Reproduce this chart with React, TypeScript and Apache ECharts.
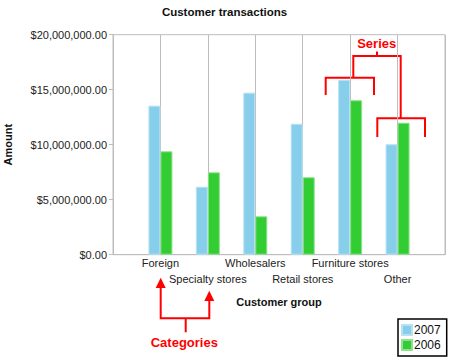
import React, { useEffect, useRef } from "react";
import * as echarts from "echarts";

const categories = ["Foreign", "Specialty stores", "Wholesalers", "Retail stores", "Furniture stores", "Other"];
const values2007 = [13550000, 6180000, 14730000, 11900000, 15900000, 10040000];
const values2006 = [9400000, 7490000, 3490000, 7040000, 14040000, 12000000];
const yTicks = [0, 5000000, 10000000, 15000000, 20000000];

const FONT = "'Liberation Sans', Arial, sans-serif";
const GRAY = "#bdbdbd";
const RED = "#ff0000";

function fmtMoney(v: number): string {
  const s = Math.round(v).toString().replace(/\B(?=(\d{3})+(?!\d))/g, ",");
  return "$" + s + ".00";
}

export default function App() {
  const ref = useRef<HTMLDivElement>(null);
  useEffect(() => {
    if (!ref.current) return;
    const chart = echarts.init(ref.current, undefined, { renderer: "svg" });
    const axisCats = ["", ...categories, ""];
    const redLine = { stroke: RED, lineWidth: 2, fill: null };
    const option: any = {
      animation: false,
      backgroundColor: "#ffffff",
      textStyle: { fontFamily: FONT },
      title: {
        text: "Customer transactions",
        left: "center",
        top: 1,
        textStyle: { fontSize: 11.5, fontWeight: "bold", color: "#111", fontFamily: FONT },
      },
      legend: {
        orient: "vertical",
        left: 398,
        top: 319,
        width: 48,
        padding: [5, 6, 5, 3],
        itemGap: 3,
        itemWidth: 10,
        itemHeight: 10,
        icon: "rect",
        borderColor: "#000",
        borderWidth: 1.5,
        textStyle: { fontSize: 12, color: "#111", fontFamily: FONT, padding: [0, 0, 0, -3] },
        data: ["2007", "2006"],
      },
      grid: {
        left: 113,
        right: 4,
        top: 34.7,
        bottom: 108.3,
        containLabel: false,
        outerBoundsMode: "none",
        show: true,
        borderColor: GRAY,
        borderWidth: 1,
        backgroundColor: "transparent",
      },
      xAxis: {
        type: "category",
        data: axisCats,
        boundaryGap: false,
        name: "Customer group",
        nameLocation: "middle",
        nameGap: 42,
        nameTextStyle: { fontSize: 11, fontWeight: "bold", color: "#111", fontFamily: FONT },
        axisLine: { show: true, lineStyle: { color: GRAY, width: 1 } },
        axisTick: { show: false },
        splitLine: { show: true, lineStyle: { color: GRAY, width: 1 } },
        axisLabel: {
          interval: 0,
          margin: 0,
          fontSize: 11,
          lineHeight: 16,
          color: "#222",
          fontFamily: FONT,
          formatter: (value: string, index: number) => (index % 2 === 0 ? "\n" + value : value),
        },
      },
      yAxis: {
        type: "value",
        min: yTicks[0],
        max: yTicks[yTicks.length - 1],
        interval: yTicks[1] - yTicks[0],
        name: "Amount",
        nameLocation: "middle",
        nameGap: 100,
        nameRotate: 90,
        nameTextStyle: { fontSize: 11, fontWeight: "bold", color: "#111", fontFamily: FONT },
        axisLine: { show: true, lineStyle: { color: GRAY, width: 1 } },
        axisTick: { show: true, length: 4, lineStyle: { color: GRAY } },
        splitLine: { show: false },
        axisLabel: {
          margin: 6,
          fontSize: 11,
          color: "#222",
          fontFamily: FONT,
          formatter: (v: number) => fmtMoney(v),
        },
      },
      series: [
        {
          name: "2007",
          type: "bar",
          barWidth: 12,
          barGap: "0%",
          data: [null, ...values2007, null],
          itemStyle: { color: "#87ceeb", borderColor: "#b8e2f4", borderWidth: 1 },
        },
        {
          name: "2006",
          type: "bar",
          barWidth: 12,
          barGap: "0%",
          data: [null, ...values2006, null],
          itemStyle: { color: "#32cd32", borderColor: "#8fe08f", borderWidth: 1 },
        },
      ],
      graphic: [
        // Series annotation
        {
          type: "text",
          x: 376.7,
          y: 43.3,
          style: { text: "Series", fill: RED, font: "bold 13px " + FONT, textAlign: "center", textVerticalAlign: "middle" },
        },
        { type: "line", shape: { x1: 377, y1: 51.5, x2: 377, y2: 56 }, style: redLine },
        { type: "polyline", shape: { points: [[353.3, 77.7], [353.3, 56], [400.7, 56], [400.7, 118.3]] }, style: redLine },
        { type: "polyline", shape: { points: [[325.7, 95], [325.7, 77.7], [374, 77.7], [374, 95]] }, style: redLine },
        { type: "polyline", shape: { points: [[377.3, 137], [377.3, 118.3], [425, 118.3], [425, 137]] }, style: redLine },
        // Categories annotation
        { type: "polyline", shape: { points: [[160.7, 286], [160.7, 318.3], [209.3, 318.3], [209.3, 299]] }, style: redLine },
        { type: "line", shape: { x1: 185.7, y1: 318.3, x2: 185.7, y2: 332.3 }, style: redLine },
        { type: "polygon", shape: { points: [[160.7, 277.7], [155.7, 288], [165.7, 288]] }, style: { fill: RED } },
        { type: "polygon", shape: { points: [[209.3, 290.7], [204.3, 301], [214.3, 301]] }, style: { fill: RED } },
        {
          type: "text",
          x: 184.3,
          y: 342.7,
          style: { text: "Categories", fill: RED, font: "bold 13px " + FONT, textAlign: "center", textVerticalAlign: "middle" },
        },
      ],
    };
    chart.setOption(option);
    return () => chart.dispose();
  }, []);
  return <div ref={ref} style={{ position: "fixed", left: 0, top: 0, width: 449, height: 363 }} />;
}
